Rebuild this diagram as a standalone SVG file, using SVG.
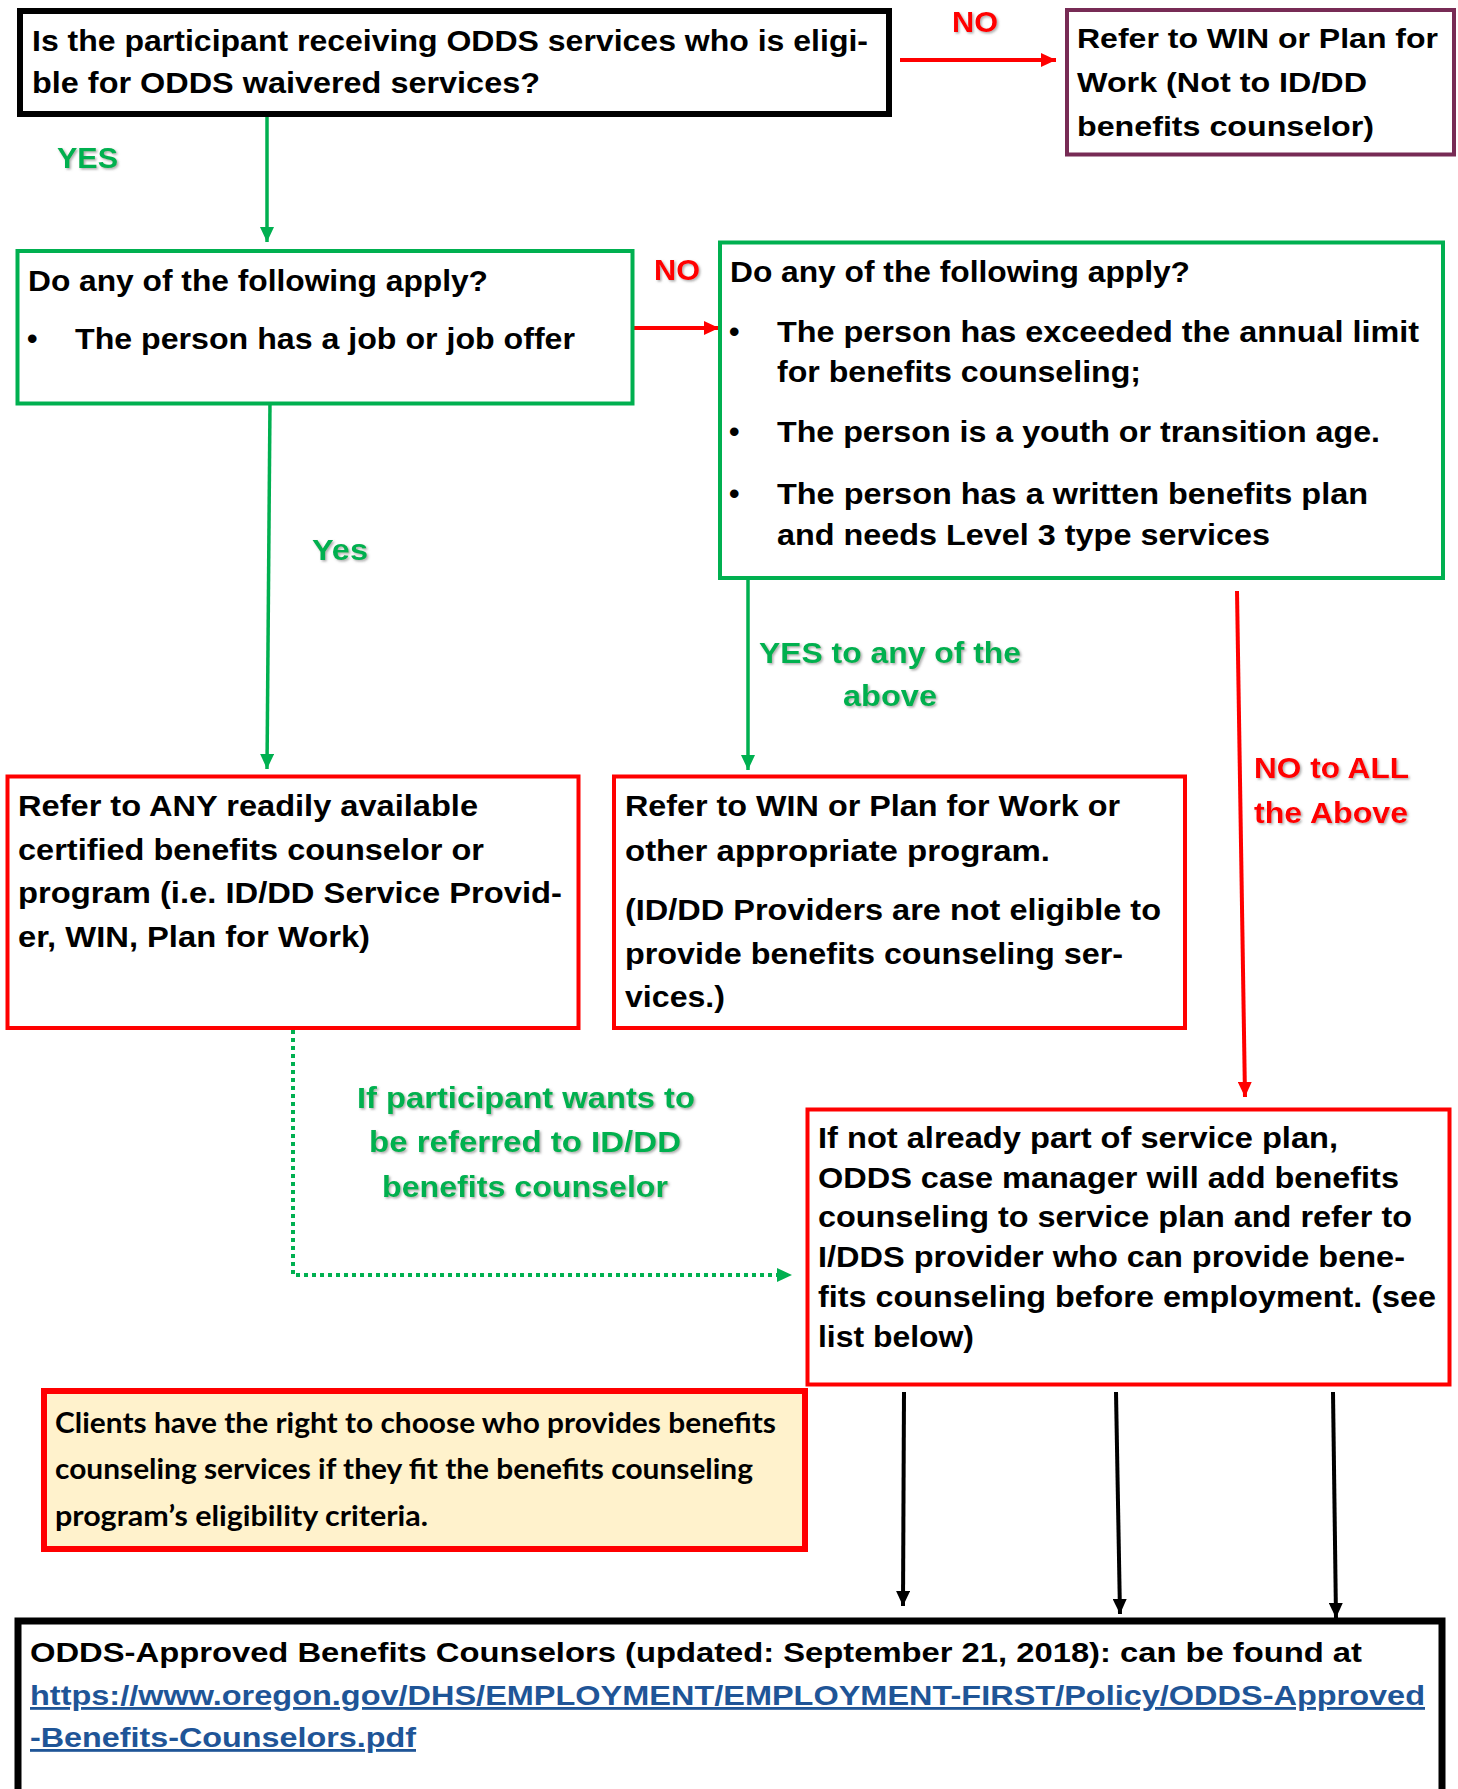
<svg xmlns="http://www.w3.org/2000/svg" width="1458" height="1789" viewBox="0 0 1458 1789">
<style>
.t{font-family:"Liberation Sans",Arial,sans-serif;font-weight:bold;font-size:30px;fill:#000}
.s{font-size:28px}
.n{font-family:Lato,"Liberation Sans",sans-serif;font-weight:bold;font-size:28px;fill:#000}
.lg{font-family:"Liberation Sans",Arial,sans-serif;font-weight:bold;font-size:30px;fill:#00B050;filter:url(#sh)}
.lr{font-family:"Liberation Sans",Arial,sans-serif;font-weight:bold;font-size:30px;fill:#FF0000;filter:url(#sh)}
.link{fill:#1F5597;text-decoration:underline}
.box{fill:#fff}
.g{stroke:#00B050}
.r{stroke:#FF0000}
</style>
<defs>
<filter id="sh" x="-10%" y="-20%" width="130%" height="150%">
<feDropShadow dx="1.5" dy="1.5" stdDeviation="1" flood-color="#666" flood-opacity="0.55"/>
</filter>
<marker id="ag" markerUnits="userSpaceOnUse" markerWidth="15" markerHeight="14" refX="15" refY="7" orient="auto"><path d="M0,0 L15,7 L0,14 z" fill="#00B050"/></marker>
<marker id="ar" markerUnits="userSpaceOnUse" markerWidth="15" markerHeight="14" refX="15" refY="7" orient="auto"><path d="M0,0 L15,7 L0,14 z" fill="#FF0000"/></marker>
<marker id="ak" markerUnits="userSpaceOnUse" markerWidth="15" markerHeight="14" refX="15" refY="7" orient="auto"><path d="M0,0 L15,7 L0,14 z" fill="#000"/></marker>
</defs>
<rect width="1458" height="1789" fill="#fff"/>

<g id="connectors" fill="none">
<line x1="900" y1="60" x2="1056" y2="60" stroke="#FF0000" stroke-width="4" marker-end="url(#ar)"/>
<line x1="267" y1="116" x2="267" y2="242" stroke="#00B050" stroke-width="3.5" marker-end="url(#ag)"/>
<line x1="634" y1="328" x2="719" y2="328" stroke="#FF0000" stroke-width="4" marker-end="url(#ar)"/>
<line x1="270" y1="402" x2="267" y2="769" stroke="#00B050" stroke-width="3.5" marker-end="url(#ag)"/>
<line x1="748" y1="579" x2="748" y2="770" stroke="#00B050" stroke-width="3.5" marker-end="url(#ag)"/>
<line x1="1237" y1="591" x2="1245" y2="1097" stroke="#FF0000" stroke-width="4" marker-end="url(#ar)"/>
<path d="M293,1030 V1275 H792" stroke="#00B050" stroke-width="4" stroke-dasharray="4 4" marker-end="url(#ag)"/>
<line x1="904" y1="1392" x2="903" y2="1606" stroke="#000" stroke-width="4" marker-end="url(#ak)"/>
<line x1="1116" y1="1392" x2="1120" y2="1614" stroke="#000" stroke-width="4" marker-end="url(#ak)"/>
<line x1="1333" y1="1392" x2="1336" y2="1618" stroke="#000" stroke-width="4" marker-end="url(#ak)"/>
<text class="lr" x="952" y="32" textLength="46" lengthAdjust="spacingAndGlyphs">NO</text>
<text class="lg" x="57" y="168" textLength="61" lengthAdjust="spacingAndGlyphs">YES</text>
<text class="lr" x="654" y="280" textLength="46" lengthAdjust="spacingAndGlyphs">NO</text>
<text class="lg" x="312" y="560" textLength="56" lengthAdjust="spacingAndGlyphs">Yes</text>
<text class="lg" x="759" y="663" textLength="262" lengthAdjust="spacingAndGlyphs">YES to any of the</text>
<text class="lg" x="843" y="706" textLength="94" lengthAdjust="spacingAndGlyphs">above</text>
<text class="lr" x="1254" y="778" textLength="155" lengthAdjust="spacingAndGlyphs">NO to ALL</text>
<text class="lr" x="1254" y="823" textLength="154" lengthAdjust="spacingAndGlyphs">the Above</text>
<text class="lg" x="357" y="1108" textLength="338" lengthAdjust="spacingAndGlyphs">If participant wants to</text>
<text class="lg" x="369" y="1152" textLength="312" lengthAdjust="spacingAndGlyphs">be referred to ID/DD</text>
<text class="lg" x="382" y="1197" textLength="286" lengthAdjust="spacingAndGlyphs">benefits counselor</text>
</g>

<g id="q1">
<rect class="box" x="20" y="11" width="869" height="103" stroke="#000" stroke-width="6"/>
<text class="t" x="32" y="51" textLength="836" lengthAdjust="spacingAndGlyphs">Is the participant receiving ODDS services who is eligi-</text>
<text class="t" x="32" y="93" textLength="508" lengthAdjust="spacingAndGlyphs">ble for ODDS waivered services?</text>
</g>

<g id="refer-win-1">
<rect class="box" x="1067" y="10" width="387" height="144.5" stroke="#772B55" stroke-width="4"/>
<text class="t s" x="1077" y="48" textLength="361" lengthAdjust="spacingAndGlyphs">Refer to WIN or Plan for</text>
<text class="t s" x="1077" y="92" textLength="290" lengthAdjust="spacingAndGlyphs">Work (Not to ID/DD</text>
<text class="t s" x="1077" y="136" textLength="297" lengthAdjust="spacingAndGlyphs">benefits counselor)</text>
</g>

<g id="q2">
<rect class="box g" x="17.5" y="251" width="615" height="152.5" stroke-width="4"/>
<text class="t" x="28" y="291" textLength="460" lengthAdjust="spacingAndGlyphs">Do any of the following apply?</text>
<text class="t" x="27" y="349">•</text>
<text class="t" x="75" y="349" textLength="500" lengthAdjust="spacingAndGlyphs">The person has a job or job offer</text>
</g>

<g id="q3">
<rect class="box g" x="720" y="242.5" width="723" height="335.5" stroke-width="4"/>
<text class="t" x="730" y="282" textLength="460" lengthAdjust="spacingAndGlyphs">Do any of the following apply?</text>
<text class="t" x="729" y="342">•</text>
<text class="t" x="777" y="342" textLength="642" lengthAdjust="spacingAndGlyphs">The person has exceeded the annual limit</text>
<text class="t" x="777" y="382" textLength="364" lengthAdjust="spacingAndGlyphs">for benefits counseling;</text>
<text class="t" x="729" y="442">•</text>
<text class="t" x="777" y="442" textLength="603" lengthAdjust="spacingAndGlyphs">The person is a youth or transition age.</text>
<text class="t" x="729" y="504">•</text>
<text class="t" x="777" y="504" textLength="591" lengthAdjust="spacingAndGlyphs">The person has a written benefits plan</text>
<text class="t" x="777" y="545" textLength="493" lengthAdjust="spacingAndGlyphs">and needs Level 3 type services</text>
</g>

<g id="refer-any">
<rect class="box r" x="7.5" y="776.5" width="571" height="251.5" stroke-width="4"/>
<text class="t" x="18" y="816" textLength="460" lengthAdjust="spacingAndGlyphs">Refer to ANY readily available</text>
<text class="t" x="18" y="860" textLength="466" lengthAdjust="spacingAndGlyphs">certified benefits counselor or</text>
<text class="t" x="18" y="903" textLength="544" lengthAdjust="spacingAndGlyphs">program (i.e. ID/DD Service Provid-</text>
<text class="t" x="18" y="947" textLength="352" lengthAdjust="spacingAndGlyphs">er, WIN, Plan for Work)</text>
</g>

<g id="refer-win-2">
<rect class="box r" x="614" y="776.5" width="571" height="251.5" stroke-width="4"/>
<text class="t" x="625" y="816" textLength="495" lengthAdjust="spacingAndGlyphs">Refer to WIN or Plan for Work or</text>
<text class="t" x="625" y="861" textLength="425" lengthAdjust="spacingAndGlyphs">other appropriate program.</text>
<text class="t" x="625" y="920" textLength="536" lengthAdjust="spacingAndGlyphs">(ID/DD Providers are not eligible to</text>
<text class="t" x="625" y="964" textLength="498" lengthAdjust="spacingAndGlyphs">provide benefits counseling ser-</text>
<text class="t" x="625" y="1007" textLength="100" lengthAdjust="spacingAndGlyphs">vices.)</text>
</g>

<g id="case-manager">
<rect class="box r" x="807.5" y="1109.5" width="642" height="275" stroke-width="4"/>
<text class="t" x="818" y="1148" textLength="520" lengthAdjust="spacingAndGlyphs">If not already part of service plan,</text>
<text class="t" x="818" y="1188" textLength="581" lengthAdjust="spacingAndGlyphs">ODDS case manager will add benefits</text>
<text class="t" x="818" y="1227" textLength="594" lengthAdjust="spacingAndGlyphs">counseling to service plan and refer to</text>
<text class="t" x="818" y="1267" textLength="587" lengthAdjust="spacingAndGlyphs">I/DDS provider who can provide bene-</text>
<text class="t" x="818" y="1307" textLength="618" lengthAdjust="spacingAndGlyphs">fits counseling before employment. (see</text>
<text class="t" x="818" y="1347" textLength="156" lengthAdjust="spacingAndGlyphs">list below)</text>
</g>

<g id="note">
<rect x="44" y="1391" width="761" height="158" fill="#FFF2CC" stroke="#FF0000" stroke-width="6"/>
<text class="n" x="55" y="1433" textLength="721" lengthAdjust="spacingAndGlyphs">Clients have the right to choose who provides benefits</text>
<text class="n" x="55" y="1479" textLength="698" lengthAdjust="spacingAndGlyphs">counseling services if they fit the benefits counseling</text>
<text class="n" x="55" y="1526" textLength="373" lengthAdjust="spacingAndGlyphs">program’s eligibility criteria.</text>
</g>

<g id="approved-list">
<rect class="box" x="18" y="1621" width="1424" height="260" stroke="#000" stroke-width="7"/>
<text class="t s" x="30" y="1662" textLength="1332" lengthAdjust="spacingAndGlyphs">ODDS-Approved Benefits Counselors (updated: September 21, 2018):  can be found at</text>
<text class="t s link" x="30" y="1705" textLength="1395" lengthAdjust="spacingAndGlyphs">https://www.oregon.gov/DHS/EMPLOYMENT/EMPLOYMENT-FIRST/Policy/ODDS-Approved</text>
<text class="t s link" x="30" y="1747" textLength="386" lengthAdjust="spacingAndGlyphs">-Benefits-Counselors.pdf</text>
</g>
</svg>
